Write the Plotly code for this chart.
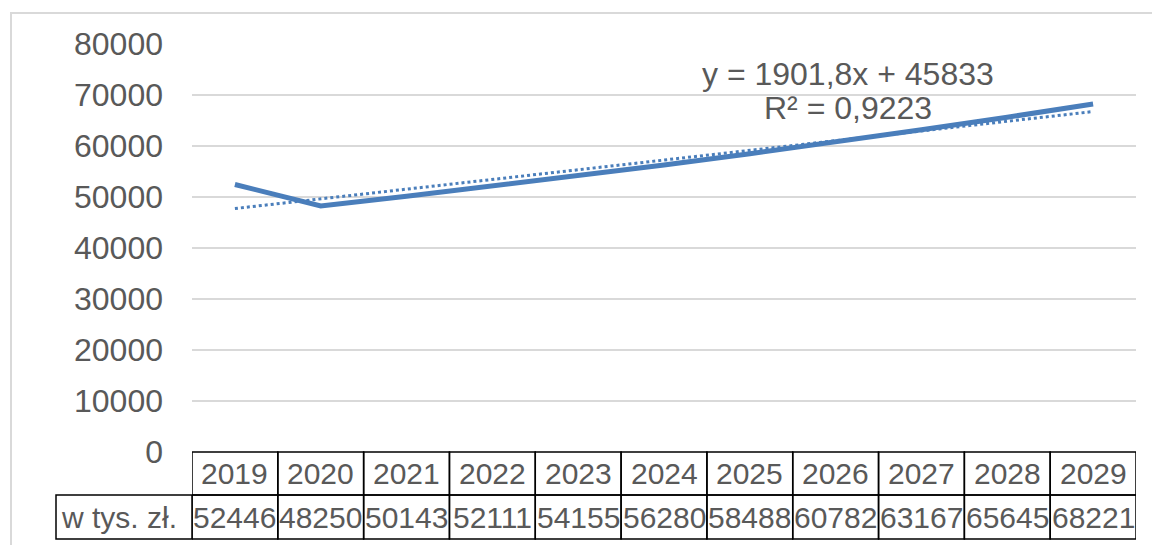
import numpy as np
import plotly.graph_objects as go

# ---- data ----
years = ["2019", "2020", "2021", "2022", "2023", "2024", "2025", "2026", "2027", "2028", "2029"]
values = [52446, 48250, 50143, 52111, 54155, 56280, 58488, 60782, 63167, 65645, 68221]
row_label = "w tys. zł."
trend_text_1 = "y = 1901,8x + 45833"
trend_text_2 = "R² = 0,9223"
y_ticks = [0, 10000, 20000, 30000, 40000, 50000, 60000, 70000, 80000]

# ---- styling ----
W, H = 1152, 545
ML, MR, MT, MB = 192, 16, 44, 93
PW = W - ML - MR
PH = H - MT - MB
FONT = "Liberation Sans, Arial, sans-serif"
TXT = "#595959"
BLUE = "#4a7ebb"

def px_to_py(p):
    return (H - MB - p) / PH

def px_to_px(p):
    return (p - ML) / PW

# linear trendline (least squares, as Excel)
xi = np.arange(1, len(values) + 1)
slope, intercept = np.polyfit(xi, values, 1)
trend = slope * xi + intercept

fig = go.Figure()
fig.add_trace(go.Scatter(x=years, y=values, mode="lines",
                         line=dict(color=BLUE, width=5), hoverinfo="skip"))
fig.add_trace(go.Scatter(x=years, y=trend, mode="lines",
                         line=dict(color=BLUE, width=3, dash="dot"), hoverinfo="skip"))

shapes = []
annotations = []

# outer chart border
shapes.append(dict(type="rect", xref="paper", yref="paper",
                   x0=px_to_px(11), x1=px_to_px(1160), y0=px_to_py(560), y1=px_to_py(13),
                   line=dict(color="#d9d9d9", width=2), layer="below"))

# data table
y_top = px_to_py(452)
y_mid = px_to_py(495)
y_bot = px_to_py(539)
cell_line = dict(color="#000000", width=1.5)
TABLE_FS = 30
for i, (yr, v) in enumerate(zip(years, values)):
    shapes.append(dict(type="rect", xref="x", yref="paper", x0=i - 0.5, x1=i + 0.5,
                       y0=y_mid, y1=y_top, line=cell_line))
    shapes.append(dict(type="rect", xref="x", yref="paper", x0=i - 0.5, x1=i + 0.5,
                       y0=y_bot, y1=y_mid, line=cell_line))
    annotations.append(dict(x=i, y=(y_top + y_mid) / 2, xref="x", yref="paper",
                            text=yr, showarrow=False, xanchor="center", yanchor="middle",
                            font=dict(family=FONT, size=TABLE_FS, color=TXT)))
    annotations.append(dict(x=i, y=(y_mid + y_bot) / 2, xref="x", yref="paper",
                            text=str(v), showarrow=False, xanchor="center", yanchor="middle",
                            font=dict(family=FONT, size=TABLE_FS, color=TXT)))
shapes.append(dict(type="rect", xref="paper", yref="paper", x0=px_to_px(56), x1=0,
                   y0=y_bot, y1=y_mid, line=cell_line))
annotations.append(dict(x=px_to_px(59), y=(y_mid + y_bot) / 2, xref="paper", yref="paper",
                        text=row_label, showarrow=False, xanchor="left", yanchor="middle",
                        font=dict(family=FONT, size=TABLE_FS, color=TXT)))

# trendline label
annotations.append(dict(x=px_to_px(848), y=px_to_py(74), xref="paper", yref="paper",
                        text=trend_text_1, showarrow=False, xanchor="center", yanchor="middle",
                        font=dict(family=FONT, size=32, color=TXT)))
annotations.append(dict(x=px_to_px(848), y=px_to_py(108), xref="paper", yref="paper",
                        text=trend_text_2, showarrow=False, xanchor="center", yanchor="middle",
                        font=dict(family=FONT, size=32, color=TXT)))

fig.update_layout(
    width=W, height=H,
    margin=dict(l=ML, r=MR, t=MT, b=MB, pad=0),
    paper_bgcolor="white", plot_bgcolor="white",
    showlegend=False,
    shapes=shapes, annotations=annotations,
    xaxis=dict(type="category", range=[-0.5, len(years) - 0.5], showticklabels=False,
               showgrid=False, zeroline=False, showline=False, ticks=""),
    yaxis=dict(range=[0, 80000], tickvals=y_ticks, ticktext=[str(t) for t in y_ticks],
               showgrid=True, gridcolor="#d9d9d9", gridwidth=1.5, zeroline=False,
               showline=False, ticks="", ticklabelstandoff=28,
               tickfont=dict(family=FONT, size=32, color=TXT)),
)

fig.write_html("out.html", config={"displayModeBar": False},
               post_script="document.body.style.margin='0px';")
